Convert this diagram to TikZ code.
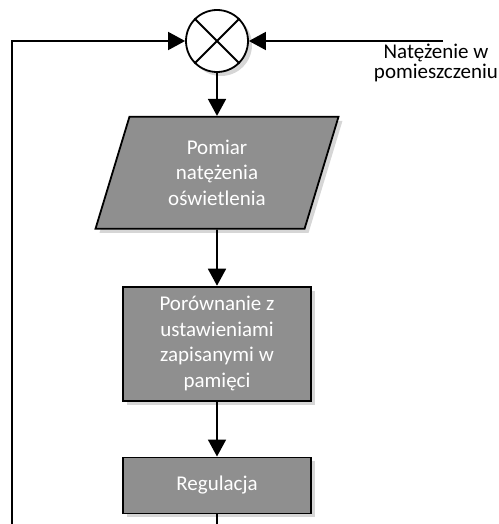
\documentclass[tikz,border=0pt]{standalone}
\usepackage{fontspec}
\setmainfont{Carlito}
\usetikzlibrary{positioning, arrows.meta, shapes.geometric, shadows}
\definecolor{boxgray}{HTML}{8F8F8F}
\definecolor{shadowgray}{HTML}{D6D6D6}

\begin{document}
\begin{tikzpicture}[
  x=1pt, y=1pt,
  every node/.style={font=\fontsize{21pt}{25.5pt}\selectfont},
  blockshadow/.style={
    drop shadow={shadow xshift=4pt, shadow yshift=-4pt, fill=shadowgray, opacity=1},
  },
  processbox/.style={
    draw=black,
    line width=1.8pt,
    fill=boxgray,
    text=white,
    align=center,
    minimum width=188pt,
    inner sep=2pt,
    blockshadow,
  },
  iobox/.style={
    processbox,
    trapezium,
    trapezium left angle=64,
    trapezium right angle=116,
    trapezium stretches body,
    minimum width=243pt,
    minimum height=112pt,
  },
  sumnode/.style={
    draw=black,
    line width=1.8pt,
    fill=white,
    circle,
    minimum size=62pt,
    inner sep=0pt,
    blockshadow,
  },
  flow/.style={
    -{Triangle[length=17pt, width=18pt]},
    line width=1.8pt,
  },
  sidelabel/.style={
    font=\fontsize{21pt}{20pt}\selectfont,
    align=center,
  },
]
  \useasboundingbox (0,0) rectangle (498,-524);

  \node[sumnode] (sum) at (217,-41) {};
  \draw[line width=1.8pt] (sum.north west) -- (sum.south east)
                          (sum.north east) -- (sum.south west);

  \node[iobox, below=43pt of sum] (measure) {Pomiar\\natężenia\\oświetlenia};
  \node[processbox, minimum height=114pt, below=56pt of measure] (compare)
    {Porównanie z\\ustawieniami\\zapisanymi w\\pamięci};
  \node[processbox, minimum height=56pt, below=55pt of compare] (control) {Regulacja};

  \coordinate (input) at (443,-41);
  \coordinate (loopcorner) at (12,-41);
  \coordinate (loopend) at (12,-524);
  \coordinate (outend) at (217,-524);

  \node[sidelabel] (inlabel) at (436,-63) {Natężenie w\\pomieszczeniu};

  \draw[flow] (input) -- (sum);
  \draw[flow] (loopend) -- (loopcorner) -- (sum);
  \draw[flow] (sum) -- (measure);
  \draw[flow] (measure) -- (compare);
  \draw[flow] (compare) -- (control);
  \draw[line width=1.8pt] (control) -- (outend);
\end{tikzpicture}
\end{document}
